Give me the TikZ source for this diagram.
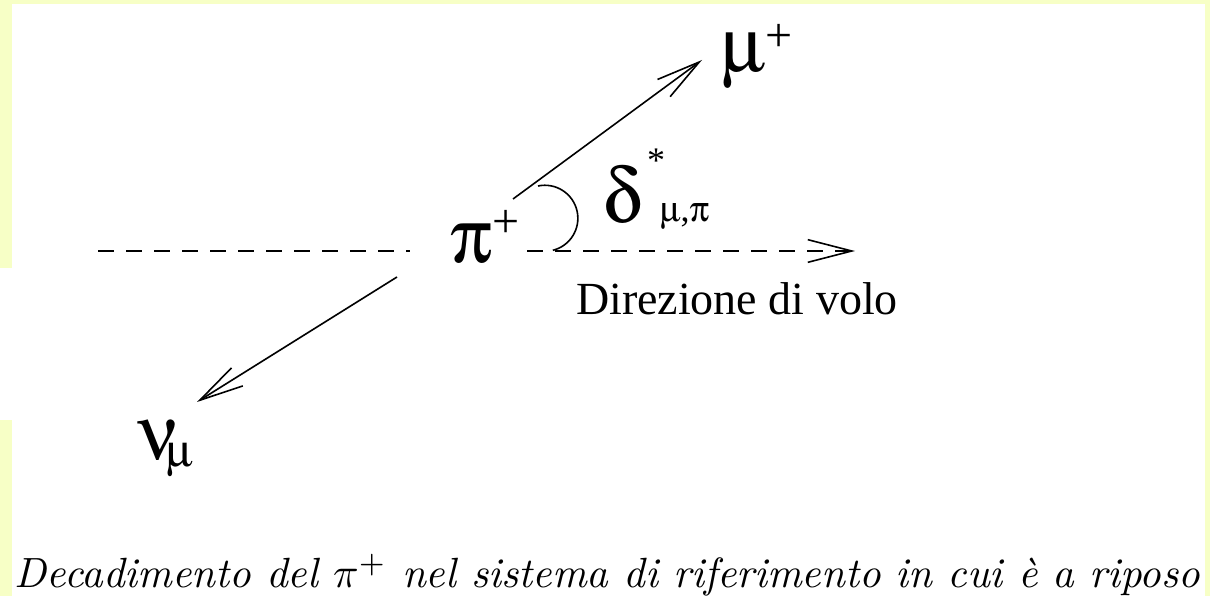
\documentclass[tikz,border=0pt]{standalone}
\usepackage{fontspec}
\usepackage[Symbol]{upgreek}
\usetikzlibrary{arrows.meta}
\newfontfamily\tms{Liberation Serif}
\definecolor{bgyel}{RGB}{247,255,198}
\newcommand\GLbig{\tms\fontsize{58}{60}\selectfont}
\newcommand\GLsup{\tms\fontsize{36}{38}\selectfont}
\newcommand\GLsub{\tms\fontsize{27}{29}\selectfont}
\newcommand\GLnusub{\tms\fontsize{35}{37}\selectfont}
\newcommand\GLdir{\tms\fontsize{34.5}{36}\selectfont}
\begin{document}
\begin{tikzpicture}[x=0.75pt,y=0.75pt,
  lbl/.style={inner sep=0pt, outer sep=0pt, anchor=base west},
  ln/.style={line width=1.2pt},
  arr/.style={ln, -{Straight Barb[length=33pt,width=16pt,line width=1.2pt]}},
  dsh/.style={ln, dash pattern=on 12pt off 9pt}]
\useasboundingbox (0,0) rectangle (1210,596);
% background
\fill[bgyel] (0,0) rectangle (1210,596);
\fill[white] (12,0) rectangle (1205,592);
\fill[white] (0,176) rectangle (12,328);
% coordinates
\coordinate (lineL) at (98,345);
\coordinate (lineR) at (410,345);
\coordinate (dirS) at (527,345);
\coordinate (dirE) at (855,345);
\coordinate (muS) at (513,397);
\coordinate (muE) at (702,536);
\coordinate (nuS) at (397,319);
\coordinate (nuE) at (197,194);
\coordinate (arcS) at (538,410);
% lines
\draw[dsh] (lineL) -- (lineR);
\draw[dsh, -{Straight Barb[length=33pt,width=17pt,line width=1.2pt]}] (dirS) -- (dirE);
\draw[arr] (muS) -- (muE);
\draw[arr] (nuS) -- (nuE);
\draw[ln] (arcS) arc[start angle=102, end angle=-76, radius=33];
% labels
\node[lbl] (pi) at (450,333) {\GLbig$\uppi$\raisebox{19pt}{\GLsup +}};
\node[lbl] (mu) at (721,524) {\GLbig$\upmu$\raisebox{15pt}{\GLsup +}};
\node[lbl] (delta) at (603,373) {\GLbig$\updelta$};
\node[lbl] (dstar) at (647,423) {\GLsub *};
\node[lbl] (dsub) at (660,374) {\GLsub$\upmu$,$\uppi$};
\node[lbl] (nu) at (138,136) {\GLbig$\upnu$};
\node[lbl] (nusub) at (166,129) {\GLnusub$\upmu$};
\node[lbl] (dir) at (576,281) {\GLdir Direzione di volo};
\node[lbl] (cap) at (15,8) {\resizebox{888.75pt}{!}{\itshape Decadimento del $\pi^+$ nel sistema di riferimento in cui è a riposo}};
\end{tikzpicture}
\end{document}
